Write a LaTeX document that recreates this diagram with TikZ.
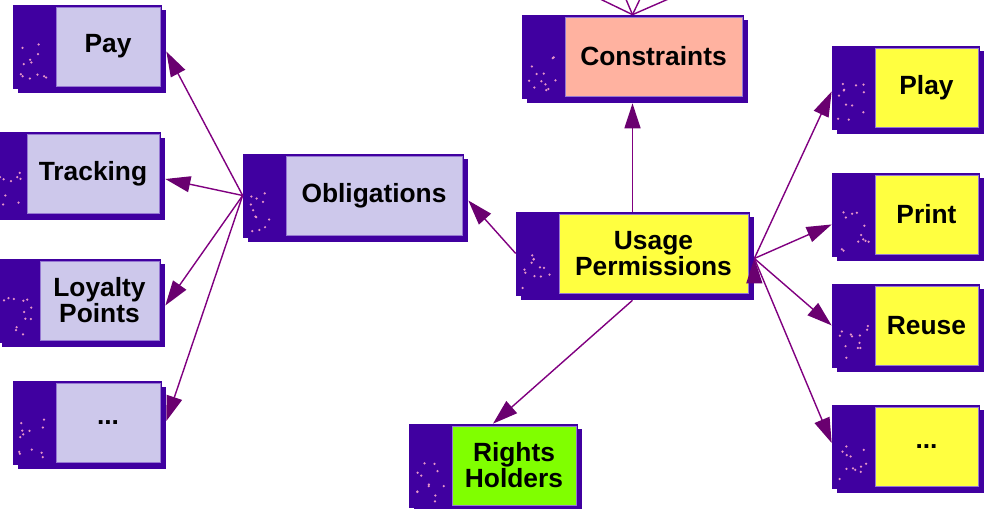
\documentclass[tikz,border=0pt]{standalone}
\usepackage{fontspec}
\setmainfont{Liberation Sans}
\usepackage{tikz}
\usetikzlibrary{arrows.meta}
\usetikzlibrary{positioning}
\usetikzlibrary{shadows}

\definecolor{boxedge}{RGB}{64,0,160}
\definecolor{innerline}{RGB}{150,120,210}
\definecolor{lav}{RGB}{205,200,235}
\definecolor{salmon}{RGB}{255,178,160}
\definecolor{yel}{RGB}{255,255,64}
\definecolor{grn}{RGB}{128,255,0}
\definecolor{speck}{RGB}{230,150,200}
\definecolor{linkcol}{RGB}{128,0,128}
\definecolor{headcol}{RGB}{106,0,112}

\begin{document}
\pgfmathsetseed{7}
\begin{tikzpicture}[x=0.02cm,y=-0.02cm,on grid,
    box/.style={rectangle, draw=boxedge, fill=boxedge, minimum height=1.66cm, inner sep=0pt,
        drop shadow={shadow xshift=0.1cm,shadow yshift=-0.1cm,fill=boxedge,opacity=1},
        path picture={
            \fill[#1, draw=innerline, line width=0.4pt]
                ([xshift=0.86cm,yshift=0.04cm]path picture bounding box.south west)
                rectangle ([xshift=-0.02cm,yshift=-0.04cm]path picture bounding box.north east);
            \foreach \k in {1,...,12}
                \fill[speck] ([xshift=0.12cm+rnd*0.62cm,yshift=0.1cm+rnd*0.8cm]path picture bounding box.south west) circle (0.025cm);
        }},
    txt/.style={font=\fontsize{15}{14.8}\selectfont\bfseries, align=center, xshift=0.42cm},
    link/.style={draw=linkcol, line width=0.8pt, -{Triangle[length=0.5cm,width=0.32cm,color=headcol]}},
    wire/.style={draw=linkcol, line width=0.8pt}]
    \clip (0,0) rectangle (994,509);

    % left column
    \node[box=lav, minimum width=2.96cm, label={[txt]center:Pay}] (pay) at (87,46.5) {};
    \node[box=lav, minimum width=3.52cm, label={[txt]center:Tracking}] (tracking) at (72,174) {};
    \node[box=lav, minimum width=3.26cm, label={[txt]center:Loyalty\\Points}] (loyalty) at (78.5,300.5) {};
    \node[box=lav, minimum width=2.96cm, label={[txt]center:...}] (moreobl) at (87,423) {};

    % middle
    \node[box=lav, minimum width=4.40cm, label={[txt]center:Obligations}] (obl) at (353,195.5) {};
    \node[box=salmon, minimum width=4.42cm, label={[txt]center:Constraints}] (cons) at (632.5,56.5) {};
    \node[box=yel, minimum width=4.66cm, label={[txt]center:Usage\\Permissions}] (usage) [below=3.94cm of cons] {};
    \node[box=grn, minimum width=3.36cm, label={[txt]center:Rights\\Holders}] (rights) at (493,465.5) {};

    % right column
    \node[box=yel, minimum width=2.94cm, label={[txt]center:Play}] (play) at (905.5,87.5) {};
    \node[box=yel, minimum width=2.94cm, label={[txt]center:Print}] (print) [below=2.54cm of play] {};
    \node[box=yel, minimum width=2.94cm, label={[txt]center:Reuse}] (reuse) [below=2.22cm of print] {};
    \node[box=yel, minimum width=2.94cm, label={[txt]center:...}] (moreuse) [below=2.43cm of reuse] {};

    \coordinate (up1) at (596,-3);
    \coordinate (up2) at (625,-3);
    \coordinate (up3) at (641,-3);
    \coordinate (up4) at (673,-3);

    \path[wire]
        (cons.north) edge (up1)
        (cons.north) edge (up2)
        (cons.north) edge (up3)
        (cons.north) edge (up4);
    \path[link]
        (obl.west) edge ([shift={(5,5)}]pay.east)
        (obl.west) edge ([shift={(5,5)}]tracking.east)
        (obl.west) edge ([shift={(5,5)}]loyalty.east)
        (obl.west) edge ([shift={(5,-2)}]moreobl.east)
        (usage.west) edge ([shift={(5,5)}]obl.east)
        (usage.north) edge ([shift={(0,5)}]cons.south)
        ([shift={(0,5)}]usage.south) edge (rights.north)
        ([shift={(5,5)}]usage.east) edge ([shift={(0,4)}]play.west)
        ([shift={(5,5)}]usage.east) edge ([shift={(0,10)}]print.west)
        ([shift={(5,5)}]usage.east) edge (reuse.west)
        ([shift={(5,5)}]usage.east) edge ([shift={(0,-4)}]moreuse.west);
\end{tikzpicture}
\end{document}
